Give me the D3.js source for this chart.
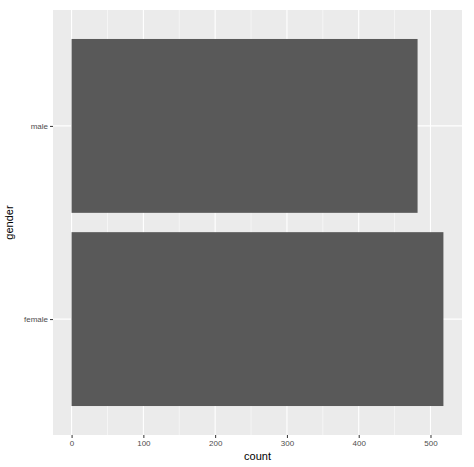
<!DOCTYPE html>
<html><head><meta charset="utf-8">
<script src="https://cdn.jsdelivr.net/npm/d3@7"></script>
<style>body{margin:0;background:#fff}text{font-family:"Liberation Sans",Arial,sans-serif}</style>
</head><body><svg id="c" width="474" height="467"></svg>
<script>
const categories = ["female", "male"];
const counts = [518, 482];
const xTicks = [0, 100, 200, 300, 400, 500];

const svg = d3.select("#c");
const L = 53, R = 462, T = 10, B = 435;
const x = d3.scaleLinear().domain([-25.9, 543.9]).range([L, R]);
const y = d3.scaleBand().domain(categories).range([B, T]).paddingInner(0.1).paddingOuter(0.15 / 0.9 * 0.9 + 0.1);
// ensure ggplot-like expansion: centres at 0.6 units from edges
y.paddingOuter(0.1).paddingInner(0.1);
const unit = (B - T) / 2.2;
const yc = d => (d === "female" ? B - 0.6 * unit : B - 1.6 * unit);
const bh = 0.9 * unit;

svg.append("rect").attr("x", L).attr("y", T).attr("width", R - L).attr("height", B - T).attr("fill", "#EBEBEB");
const minor = d3.range(50, 551, 100);
svg.selectAll(".mg").data(minor).enter().append("line")
  .attr("x1", d => x(d)).attr("x2", d => x(d)).attr("y1", T).attr("y2", B)
  .attr("stroke", "#fff").attr("stroke-width", 0.5);
svg.selectAll(".gx").data(xTicks).enter().append("line")
  .attr("x1", d => x(d)).attr("x2", d => x(d)).attr("y1", T).attr("y2", B)
  .attr("stroke", "#fff").attr("stroke-width", 1.1);
svg.selectAll(".gy").data(categories).enter().append("line")
  .attr("y1", d => yc(d)).attr("y2", d => yc(d))
  .attr("x1", L).attr("x2", R).attr("stroke", "#fff").attr("stroke-width", 1.1);

svg.selectAll(".bar").data(categories).enter().append("rect")
  .attr("x", x(0)).attr("y", d => yc(d) - bh / 2)
  .attr("width", (d, i) => x(counts[i]) - x(0)).attr("height", bh)
  .attr("fill", "#595959");

const xa = svg.append("g").attr("transform", `translate(0,${B})`)
  .call(d3.axisBottom(x).tickValues(xTicks).tickSize(3).tickPadding(2));
const ys = d3.scaleOrdinal().domain(categories).range(categories.map(yc));
const ya = svg.append("g").attr("transform", `translate(${L},0)`)
  .call(d3.axisLeft(ys).tickSize(3).tickPadding(2));
[xa, ya].forEach(a => {
  a.select(".domain").remove();
  a.selectAll(".tick line").attr("stroke", "#333");
  a.selectAll("text").attr("fill", "#4D4D4D").style("font-size", "8px");
});

svg.append("text").attr("x", (L + R) / 2).attr("y", 460).attr("text-anchor", "middle")
  .style("font-size", "11px").attr("fill", "#000").text("count");
svg.append("text").attr("transform", `translate(13,${(T + B) / 2}) rotate(-90)`).attr("text-anchor", "middle")
  .style("font-size", "11px").attr("fill", "#000").text("gender");
</script></body></html>
